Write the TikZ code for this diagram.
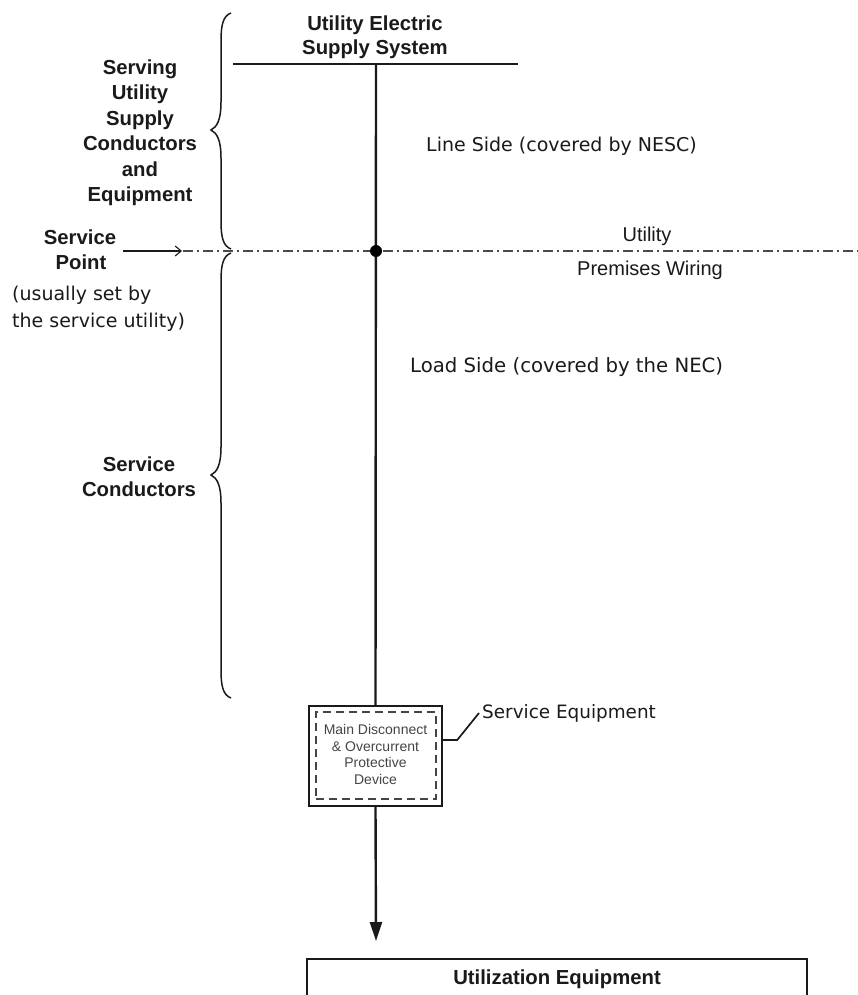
\documentclass[tikz,border=0pt]{standalone}
\usepackage{fontspec}
\setmainfont{Liberation Sans}
\newfontfamily\dvfont{DejaVu Sans}
\usetikzlibrary{arrows.meta}
\definecolor{ink}{HTML}{1A1A1A}
\definecolor{grayink}{HTML}{454545}
\definecolor{dashgray}{HTML}{4A4A4A}
\newcommand\mybrace[3]{% top, middle, bottom
  \draw[bracestyle] (231,#1) .. controls (223,{#1+3}) and (221,{#1+12}) .. (221,{#1+28})
    -- (221,{#2-28}) .. controls (221,{#2-10}) and (217,{#2-3}) .. (211,#2)
    .. controls (217,{#2+3}) and (221,{#2+10}) .. (221,{#2+28})
    -- (221,{#3-28}) .. controls (221,{#3-12}) and (223,{#3-3}) .. (231,#3);}
\begin{document}
\begin{tikzpicture}[x=1pt,y=-1pt,
  boldlbl/.style={inner sep=0pt, anchor=base, text=ink, font=\fontsize{20.3}{25}\selectfont\bfseries},
  plainlbl/.style={inner sep=0pt, anchor=base west, text=ink, font=\dvfont\fontsize{19}{24}\selectfont},
  sanslbl/.style={inner sep=0pt, anchor=base, text=ink, font=\fontsize{20}{25}\selectfont},
  smalllbl/.style={inner sep=0pt, anchor=base, text=grayink, font=\fontsize{14}{17}\selectfont},
  bracestyle/.style={line width=1.5pt, draw=ink},
  heavy/.style={line width=2.4pt, draw=ink},
  junction/.style={circle, fill=black, inner sep=0pt, minimum size=12pt},
  mdbox/.style={draw=ink, line width=2.4pt, fill=white, minimum width=133pt, minimum height=100pt, inner sep=0pt},
  innerdash/.style={draw=grayink, line width=1.7pt, dash pattern=on 8pt off 5pt, minimum width=120pt, minimum height=87pt, inner sep=0pt},
  servline/.style={draw=dashgray, line width=1.4pt, dash pattern=on 10pt off 4pt on 2pt off 4pt},
]
\useasboundingbox (0,0) rectangle (858,995);
\fill[white] (0,0) rectangle (858,995);

% supply system
\node[boldlbl] (ues1) at (375,31) {Utility Electric};
\node[boldlbl] (ues2) at (375,55) {Supply System};
\coordinate (topL) at (233,64);
\coordinate (topR) at (518,64);
\coordinate (feed) at (376,64);
\draw[heavy] (topL) -- (topR);

% service point line
\coordinate (spL) at (183,251);
\coordinate (spR) at (858,251);
\draw[servline] (spL) -- (spR);
\coordinate (arrS) at (123,251);
\coordinate (arrE) at (182,251);
\draw[line width=1.1pt, draw=ink, -{Straight Barb[length=6pt,width=10pt]}] (arrS) -- (arrE);

% service equipment box
\node[mdbox] (mdb) at (375.5,756) {};
\draw[heavy] (feed) -- (mdb.north);
\node[junction] (sp) at (376,251) {};
\node[innerdash] (mdbin) at (376,755.5) {};
\node[smalllbl] (m1) at (375.5,734) {Main Disconnect};
\node[smalllbl] (m2) at (375.5,751) {\& Overcurrent};
\node[smalllbl] (m3) at (375.5,767.5) {Protective};
\node[smalllbl] (m4) at (375.5,784) {Device};

% leader to label
\coordinate (seqtip) at (479,713);
\draw[line width=1.7pt, draw=ink] ([yshift=16pt]mdb.east) -- ++(14,0) -- (seqtip);
\node[plainlbl, font=\dvfont\fontsize{18.4}{22}\selectfont] (seq) at (482,718) {Service Equipment};

% arrow to utilization
\coordinate (tip) at (376,941);
\draw[heavy, -{Triangle[length=19pt,width=12pt]}] (mdb.south) -- (tip);
\begin{scope}
\clip (0,0) rectangle (858,995);
\node[draw=ink, line width=1.6pt, minimum width=500pt, minimum height=70pt, anchor=north, inner sep=0pt] (ue) at (557,958) {};
\end{scope}
\node[boldlbl] (uel) at (557,984) {Utilization Equipment};

% braces
\mybrace{13}{130}{249}
\mybrace{253}{475}{698}

% left labels
\node[boldlbl] (s1) at (140,75) {Serving};
\node[boldlbl] (s2) at (140,100) {Utility};
\node[boldlbl] (s3) at (140,126) {Supply};
\node[boldlbl] (s4) at (140,151) {Conductors};
\node[boldlbl] (s5) at (140,176) {and};
\node[boldlbl] (s6) at (140,201) {Equipment};

\node[boldlbl] (p1) at (80,244) {Service};
\node[boldlbl] (p2) at (81,269) {Point};
\node[plainlbl] (p3) at (12,300) {(usually set by};
\node[plainlbl] (p4) at (12,327) {the service utility)};

\node[boldlbl] (c1) at (139,471) {Service};
\node[boldlbl] (c2) at (139,496) {Conductors};

% right labels
\node[plainlbl] (ls) at (426,152) {Line Side (covered by NESC)};
\node[sanslbl] (ut) at (647,241) {Utility};
\node[sanslbl] (pw) at (650,275) {Premises Wiring};
\node[plainlbl, font=\dvfont\fontsize{19.7}{24}\selectfont] (ld) at (410,372) {Load Side (covered by the NEC)};
\end{tikzpicture}
\end{document}
